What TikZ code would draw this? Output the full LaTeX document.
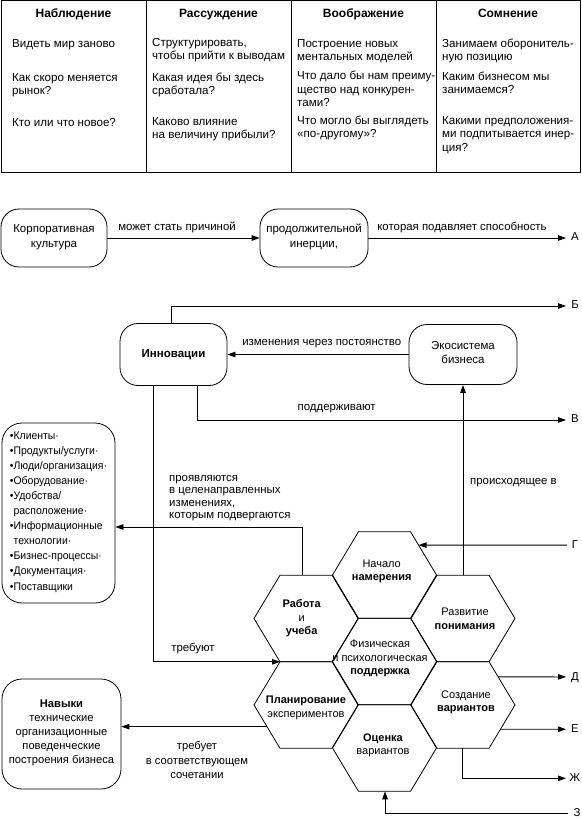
\documentclass[tikz,border=0pt]{standalone}
\usepackage{fontspec}
\setmainfont{Liberation Sans}
\newfontfamily\narrowfont[FakeStretch=0.95]{Liberation Sans}
\usetikzlibrary{arrows.meta,calc}
\newcommand\hexcell[3]{%
  \coordinate (#1-1) at (#2-26,#3-43.3);
  \coordinate (#1-2) at (#2-52,#3);
  \coordinate (#1-3) at (#2-26,#3+43.3);
  \coordinate (#1-4) at (#2+26,#3+43.3);
  \coordinate (#1-5) at (#2+52,#3);
  \coordinate (#1-6) at (#2+26,#3-43.3);
  \draw[hexline] (#1-1)--(#1-2)--(#1-3)--(#1-4)--(#1-5)--(#1-6)--cycle;}
\begin{document}
\begin{tikzpicture}[x=1pt,y=-1pt,
  txt/.style={inner sep=0pt, font=\fontsize{11.4}{13.5}\selectfont,
    execute at begin node=\strut, execute at end node=\strut},
  cell/.style={txt, align=left, anchor=west, font=\fontsize{11.6}{13.5}\selectfont},
  head/.style={txt, font=\fontsize{12}{13.5}\selectfont\bfseries},
  rbox/.style={draw, line width=0.8pt, rounded corners=18pt, align=center,
    font=\fontsize{11.5}{14.5}\selectfont, execute at begin node=\strut, execute at end node=\strut},
  lbl/.style={txt, align=center},
  tabline/.style={line width=1pt},
  hexline/.style={line width=0.8pt, line join=miter},
  hext/.style={txt, align=center, font=\fontsize{11}{13.5}\selectfont},
  arr/.style={line width=0.8pt, -{Triangle[length=8pt,width=5.5pt]}}]
\useasboundingbox (0,0) rectangle (581,821);
% ---------- table ----------
\draw[tabline] (1,1) rectangle (580,173);
\draw[tabline] (146,1) -- (146,173);
\draw[tabline] (291,1) -- (291,173);
\draw[tabline] (436,1) -- (436,173);
\node[head] (h1) at (73.5,15) {Наблюдение};
\node[head] (h2) at (218.5,15) {Рассуждение};
\node[head] (h3) at (363.5,15) {Воображение};
\node[head] (h4) at (508,15) {Сомнение};
\node[cell] (c11) at (12,45) {Видеть мир заново};
\node[cell] (c12) at (12,86) {Как скоро меняется\\рынок?};
\node[cell] (c13) at (12,124) {Кто или что новое?};
\node[cell] (c21) at (152,51) {Структурировать,\\чтобы прийти к выводам};
\node[cell] (c22) at (152,86) {Какая идея бы здесь\\сработала?};
\node[cell] (c23) at (152,130) {Каково влияние\\на величину прибыли?};
\node[cell] (c31) at (297,52) {Построение новых\\ментальных моделей};
\node[cell] (c32) at (297,91) {Что дало бы нам преиму-\\щество над конкурен-\\тами?};
\node[cell] (c33) at (297,129) {Что могло бы выглядеть\\«по-другому»?};
\node[cell] (c41) at (442,52) {Занимаем оборонитель-\\ную позицию};
\node[cell] (c42) at (442,85) {Каким бизнесом мы\\занимаемся?};
\node[cell] (c43) at (442,136) {Какими предположения-\\ми подпитывается инер-\\ция?};
% ---------- inertia row ----------
\node[rbox, minimum width=106pt, minimum height=58pt] (cult) at (54,238) {Корпоративная\\культура};
\node[rbox, minimum width=108pt, minimum height=58pt] (iner) at (314,238) {продолжительной\\инерции,};
\coordinate (A) at (566,238);
\draw[arr] (cult.east) -- (iner.west);
\draw[arr] (iner.east) -- (A);
\node[lbl] (l1) at (177,228) {может стать причиной};
\node[lbl] (l2) at (462,228) {которая подавляет способность};
\node[lbl] (lA) at (575,238) {А};
% ---------- innovation ----------
\node[rbox, minimum width=107pt, minimum height=62pt, font=\fontsize{11.5}{14.5}\selectfont\bfseries] (inn) at (173.5,354.5) {Инновации};
\node[rbox, minimum width=108pt, minimum height=60pt] (eco) at (463,354.5) {Экосистема\\бизнеса};
\coordinate (bx) at (171,0);
\coordinate (vx) at (197,0);
\coordinate (tx) at (153.3,0);
\coordinate (B) at (566,306);
\coordinate (V) at (566,420);
\draw[arr] (inn.north -| bx) |- (B);
\draw[arr] (inn.south -| vx) |- (V);
\draw[arr] (eco.west) -- (inn.east);
\node[lbl] (lB) at (575,306) {Б};
\node[lbl] (lV) at (575,420) {В};
\node[lbl] (l3) at (321.7,343) {изменения через постоянство};
\node[lbl] (l4) at (336.7,408) {поддерживают};
\node[lbl, anchor=west] (l5) at (470,482) {происходящее в};
% ---------- list ----------
\node[draw, line width=0.8pt, rounded corners=20pt, minimum width=113pt, minimum height=180pt,
  align=left, inner sep=0pt, font=\narrowfont\fontsize{11}{15.1}\selectfont,
  execute at begin node=\strut, execute at end node=\strut] (list) at (58.5,513)
  {•Клиенты·\\•Продукты/услуги·\\•Люди/организация·\\•Оборудование·\\•Удобства/\\\phantom{•}расположение·\\•Информационные\\\phantom{•}технологии·\\•Бизнес-процессы·\\•Документация·\\•Поставщики};
\node[txt, align=left, anchor=west, font=\fontsize{11.4}{12.5}\selectfont] (l6) at (169,499)
  {проявляются\\в целенаправленных\\изменениях,\\которым подвергаются};
% ---------- hexagons ----------
\hexcell{rab}{306}{618.5}
\hexcell{pla}{306}{705}
\hexcell{nac}{384.5}{575}
\hexcell{fiz}{384.5}{661.5}
\hexcell{oce}{384.5}{748}
\hexcell{raz}{463}{618.5}
\hexcell{soz}{463}{705}
\node[hext] (tnac) at (381.7,572) {Начало\\\textbf{намерения}};
\node[hext] (trab) at (301.7,619) {\textbf{Работа}\\и\\\textbf{учеба}};
\node[hext] (traz) at (465,620.5) {Развитие\\\textbf{понимания}};
\node[hext] (tfiz) at (380,659.5) {Физическая\\и психологическая\\\textbf{поддержка}};
\node[hext] (tpla) at (306,708.5) {\textbf{Планирование}\\экспериментов};
\node[hext] (toce) at (383,746) {\textbf{Оценка}\\вариантов};
\node[hext] (tsoz) at (466,703) {Создание\\\textbf{вариантов}};
% ---------- Navyki ----------
\node[rbox, minimum width=119pt, minimum height=110pt, rounded corners=20pt,
  font=\fontsize{11.2}{14}\selectfont] (nav) at (61.5,734)
  {\textbf{Навыки}\\технические\\организационные\\поведенческие\\построения бизнеса};
% ---------- hex connectors ----------
\coordinate (razT) at ($(raz-1)!0.5!(raz-6)$);
\coordinate (rabT) at ($(rab-1)!0.44!(rab-6)$);
\coordinate (ly) at (0,527);
\coordinate (gT) at ($(nac-6)!0.31!(nac-5)$);
\coordinate (G) at (567,545.1);
\coordinate (dT) at ($(soz-6)!0.35!(soz-5)$);
\coordinate (D) at (566,676.9);
\coordinate (eT) at ($(soz-5)!0.56!(soz-4)$);
\coordinate (E) at (566,729.2);
\coordinate (zhT) at ($(soz-3)!0.49!(soz-4)$);
\coordinate (Zh) at (566,778.3);
\coordinate (zT) at ($(oce-3)!0.51!(oce-4)$);
\coordinate (Z) at (568,813.3);
\coordinate (plT) at ($(pla-2)!0.5!(pla-3)$);
\draw[arr] (razT) -- (eco.south);
\draw[arr] (rabT) |- (list.east |- ly);
\draw[arr] (inn.south -| tx) |- (rab-3);
\draw[arr] (G) -- (gT);
\draw[arr] (dT) -- (D);
\draw[arr] (eT) -- (E);
\draw[arr] (zhT) |- (Zh);
\draw[arr] (Z) -| (zT);
\draw[arr] (plT) -- (nav.east |- plT);
\node[lbl] (lG) at (575,546) {Г};
\node[lbl] (lD) at (575,678) {Д};
\node[lbl] (lE) at (575,730) {Е};
\node[lbl] (lZh) at (575,779) {Ж};
\node[lbl] (lZ) at (577,813.5) {З};
\node[lbl] (l7) at (193,649) {требуют};
\node[txt, align=center, font=\fontsize{11.2}{14.5}\selectfont] (l8) at (197,762.5)
  {требует\\в соответствующем\\сочетании};
\end{tikzpicture}
\end{document}
